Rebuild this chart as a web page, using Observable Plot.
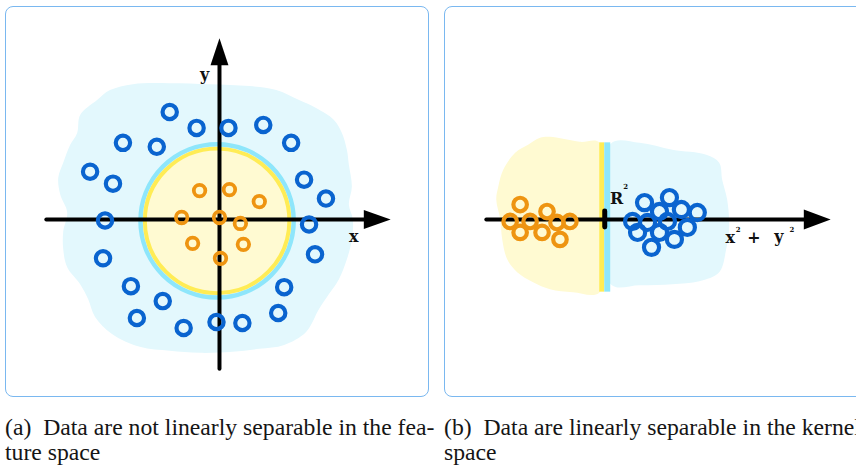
<!DOCTYPE html>
<html><head><meta charset="utf-8">
<script src="https://cdn.jsdelivr.net/npm/d3@7"></script>
<script src="https://cdn.jsdelivr.net/npm/@observablehq/plot@0.6"></script>
<style>
html,body{margin:0;padding:0;background:#fff;width:856px;height:471px;overflow:hidden;}
#wrap{position:relative;width:900px;height:471px;}
.panel{position:absolute;top:6px;width:424px;height:391px;box-sizing:border-box;border:1.5px solid #7ab8f0;border-radius:8px;overflow:hidden;background:#fff;}
.panel svg{position:absolute;left:-1.5px;top:-1.5px;}
.cap{position:absolute;font-family:"Liberation Serif",serif;font-size:23.7px;line-height:25px;white-space:pre;color:#151515;}
</style></head>
<body><div id="wrap">
<div class="panel" id="pa" style="left:5px"></div>
<div class="panel" id="pb" style="left:444px"></div>
<div class="cap" id="capA" style="left:5px;top:415px"></div>
<div class="cap" id="capB" style="left:444px;top:415px"></div>
</div>
<script>
// ---------- data ----------
// Panel (a): feature space (x, y)
const blueA = [
  [-2.5,5.4],[-1.15,4.6],[0.45,4.6],[2.2,4.75],[3.6,3.85],[-4.85,3.85],[-3.15,3.65],
  [-6.5,2.4],[-5.35,1.8],[4.25,2.0],[5.35,1.05],[-5.75,-0.05],[4.5,-0.25],[-5.85,-1.95],
  [4.8,-1.75],[-4.45,-3.35],[3.25,-3.4],[-2.85,-4.1],[-4.15,-4.95],[2.95,-4.7],
  [-1.8,-5.45],[-0.15,-5.15],[1.15,-5.2]
];
const orangeA = [
  [-1.0,1.45],[0.5,1.5],[2.0,0.9],[-1.9,0.1],[0,0.1],[1.05,-0.2],[-1.35,-1.2],[1.2,-1.25],[0.05,-1.95]
];
const haloA = [
  [-6.15,6.0],[-5.5,6.5],[-4.35,6.8],[-2.5,6.85],[-0.5,6.8],[1.5,6.7],[2.85,6.5],[4.0,6.0],
  [4.85,5.6],[5.75,5.0],[6.15,4.35],[6.4,3.5],[6.5,2.75],[6.65,1.65],[6.5,0.75],[6.7,0],
  [6.65,-1.0],[6.4,-2.0],[6.0,-3.0],[5.5,-3.75],[5.0,-4.5],[4.35,-5.65],[3.25,-6.3],[2.0,-6.5],
  [0.65,-6.65],[-1.0,-6.7],[-2.5,-6.6],[-4.0,-6.4],[-5.4,-5.75],[-6.25,-4.9],[-6.6,-4.0],
  [-7.0,-3.25],[-7.65,-2.4],[-7.85,-1.5],[-7.85,-0.6],[-7.65,0.35],[-8.0,1.25],[-8.1,2.1],
  [-7.85,2.85],[-7.5,3.75],[-7.15,4.35],[-7.0,5.25]
];
const boundaryA = [{cx:-0.12, cy:-0.07, outer:3.85, inner:3.63}];
const axisA = {xMin:-8.7, xMax:8.6, yMin:-7.5, yMax:9.1, head:1.35, half:0.48};
const labelsA = [{t:"y", x:-0.75, y:7.25},{t:"x", x:6.75, y:-0.85}];

// Panel (b): kernel space (x² + y², spread)
const orangeB = [
  [-4.25,0.75],[-4.75,-0.1],[-3.75,-0.1],[-2.9,0.4],[-2.4,-0.15],[-1.75,-0.1],[-4.25,-0.65],[-3.15,-0.65],[-2.25,-1.0]
];
const blueB = [
  [2.0,0.85],[3.25,1.1],[3.85,0.5],[4.65,0.35],[2.75,0.4],[1.4,-0.1],[2.15,-0.15],[3.15,-0.1],
  [4.15,-0.4],[1.65,-0.65],[2.75,-0.65],[3.5,-1.0],[2.35,-1.4]
];
const innerB = [
  [-0.25,3.85],[-1.25,3.9],[-2.75,4.15],[-3.25,4.1],[-3.85,3.75],[-4.5,3.35],[-5.1,2.5],[-5.35,1.65],
  [-5.45,1.0],[-5.25,0],[-5.15,-1.0],[-4.9,-2.0],[-4.4,-2.65],[-3.6,-3.15],[-2.75,-3.5],[-1.6,-3.65],[-0.25,-3.65]
];
const outerB = [
  [0.3,3.8],[1.75,3.85],[3.4,3.5],[5.1,3.25],[5.75,2.85],[5.9,2.0],[6.15,1.0],[6.25,-0.35],
  [6.1,-1.5],[5.75,-2.65],[4.75,-3.1],[3.4,-3.25],[1.75,-3.3],[0.3,-3.25]
];
const thresholdB = {at:0, yellow:-0.25, blue:0.3, top:3.85, bottom:-3.65, tick:0.4};
const axisB = {xMin:-5.95, xMax:11.35, head:1.35, half:0.5};
const labelsB = [{t:"R", x:0.6, y:1.05},{t:"x", x:6.3, y:-0.9},{t:"+", x:7.5, y:-0.9},{t:"y", x:8.75, y:-0.85}];
const supsB = [{t:"2", x:1.05, y:1.65},{t:"2", x:6.7, y:-0.5},{t:"2", x:9.4, y:-0.5}];

const captionA = ["(a)  Data are not linearly separable in the fea-", "ture space"];
const captionB = ["(b)  Data are linearly separable in the kernel", "space"];

// ---------- styles ----------
const C = {blue:"#0a64cf", orange:"#ee9411", halo:"#e3f8fd", yellowFill:"#fffad2",
           yellowRing:"#ffec55", blueRing:"#8ee6fb"};
const PX = 20; // pixels per data unit on every scale
const W = 424, H = 391;
const slab = "'DejaVu Serif',serif";

const X = d => d[0], Y = d => d[1];

function head(dir, ax, len, half) {
  // arrowhead polygon built from axis extents
  if (dir === "x") return [[ax - len, half],[ax, 0],[ax - len, -half]];
  return [[half, ax - len],[0, ax],[-half, ax - len]];
}

const plotA = Plot.plot({
  width: W, height: H, margin: 0,
  x: {domain: [-10.75, 10.45], axis: null},
  y: {domain: [-8.85, 10.7], axis: null},
  r: {type: "linear", domain: [0, 1], range: [0, PX]},
  marks: [
    Plot.line(haloA, {x: X, y: Y, curve: "catmull-rom-closed", fill: C.halo, stroke: "none"}),
    Plot.dot(boundaryA, {x: "cx", y: "cy", r: "outer", fill: "none", stroke: C.blueRing, strokeWidth: 4.5}),
    Plot.dot(boundaryA, {x: "cx", y: "cy", r: "inner", fill: C.yellowFill, stroke: C.yellowRing, strokeWidth: 4}),
    Plot.line([[axisA.xMin, 0],[axisA.xMax - axisA.head + 0.2, 0]], {x: X, y: Y, stroke: "black", strokeWidth: 4}),
    Plot.line([[0, axisA.yMin],[0, axisA.yMax - axisA.head + 0.2]], {x: X, y: Y, stroke: "black", strokeWidth: 4}),
    Plot.line(head("x", axisA.xMax, axisA.head, axisA.half), {x: X, y: Y, fill: "black", curve: "linear-closed"}),
    Plot.line(head("y", axisA.yMax, axisA.head, axisA.half - 0.03), {x: X, y: Y, fill: "black", curve: "linear-closed"}),
    Plot.dot(blueA, {x: X, y: Y, r: () => 0.36, fill: "none", stroke: C.blue, strokeWidth: 4.2}),
    Plot.dot(orangeA, {x: X, y: Y, r: () => 0.29, fill: "none", stroke: C.orange, strokeWidth: 3.8}),
    Plot.text(labelsA, {x: "x", y: "y", text: "t", fontFamily: slab, fontWeight: "bold", fontSize: 16, fill: "#111"})
  ]
});

const plotB = Plot.plot({
  width: W, height: H, margin: 0,
  x: {domain: [-8.05, 13.15], axis: null},
  y: {domain: [-8.85, 10.7], axis: null},
  r: {type: "linear", domain: [0, 1], range: [0, PX]},
  marks: [
    Plot.line(innerB, {x: X, y: Y, curve: "catmull-rom-closed", fill: C.yellowFill, stroke: "none"}),
    Plot.line(outerB, {x: X, y: Y, curve: "catmull-rom-closed", fill: C.halo, stroke: "none"}),
    Plot.rect([thresholdB], {x1: "yellow", x2: "at", y1: "bottom", y2: "top", fill: C.yellowRing}),
    Plot.rect([thresholdB], {x1: "at", x2: "blue", y1: "bottom", y2: "top", fill: C.blueRing}),
    Plot.line([[axisB.xMin, 0],[axisB.xMax - axisB.head + 0.2, 0]], {x: X, y: Y, stroke: "black", strokeWidth: 4}),
    Plot.line(head("x", axisB.xMax, axisB.head, axisB.half), {x: X, y: Y, fill: "black", curve: "linear-closed"}),
    Plot.ruleX([thresholdB], {x: "at", y1: d => -d.tick, y2: d => d.tick, stroke: "black", strokeWidth: 5, strokeLinecap: "round"}),
    Plot.dot(orangeB, {x: X, y: Y, r: () => 0.34, fill: "none", stroke: C.orange, strokeWidth: 4.2}),
    Plot.dot(blueB, {x: X, y: Y, r: () => 0.38, fill: "none", stroke: C.blue, strokeWidth: 4.2}),
    Plot.text(labelsB, {x: "x", y: "y", text: "t", fontFamily: slab, fontWeight: "bold", fontSize: 16, fill: "#111"}),
    Plot.text(supsB, {x: "x", y: "y", text: "t", fontFamily: slab, fontWeight: "bold", fontSize: 7, fill: "#111"})
  ]
});

document.getElementById("pa").appendChild(plotA);
document.getElementById("pb").appendChild(plotB);
document.getElementById("capA").textContent = captionA.join("\n");
document.getElementById("capB").textContent = captionB.join("\n");
</script>
</body></html>
